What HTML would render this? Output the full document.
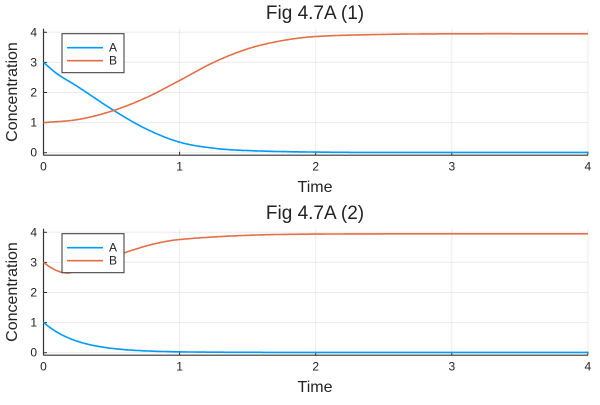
<!DOCTYPE html>
<html><head><style>
body{margin:0;background:#fff}
svg text{font-family:"Liberation Sans",sans-serif;fill:#222}
</style></head><body>
<svg id="s" width="600" height="400" xmlns="http://www.w3.org/2000/svg">
<text x="315" y="19" font-size="19" text-anchor="middle">Fig 4.7A (1)</text>
<text x="315" y="219" font-size="19" text-anchor="middle">Fig 4.7A (2)</text>
<text x="315" y="192" font-size="16" text-anchor="middle">Time</text>
<text x="315" y="392" font-size="16" text-anchor="middle">Time</text>
<text transform="translate(17,92) rotate(-90)" font-size="16" text-anchor="middle">Concentration</text>
<text transform="translate(17,292) rotate(-90)" font-size="16" text-anchor="middle">Concentration</text>
<g id="g"></g>
</svg>
<script>
var g=document.getElementById('g'),h='';
function X(t){return 43.5+t*136.1}
function plot(y0,A,B){
 var Y=function(v){return y0-v*30.1};
 for(var i=0;i<=4;i++){h+='<line x1="'+X(i)+'" x2="'+X(i)+'" y1="'+(y0-124)+'" y2="'+(y0+2.5)+'" stroke="#000" stroke-opacity="0.08"/>';
  h+='<line x1="43.5" x2="588" y1="'+Y(i)+'" y2="'+Y(i)+'" stroke="#000" stroke-opacity="0.08"/>';
  h+='<text x="'+(X(i))+'" y="'+(y0+18)+'" font-size="12" text-anchor="middle">'+i+'</text>';
  h+='<text x="37" y="'+(Y(i)+4)+'" font-size="12" text-anchor="end">'+i+'</text>';
  h+='<line x1="'+X(i)+'" x2="'+X(i)+'" y1="'+(y0+2.5)+'" y2="'+(y0-1)+'" stroke="#333"/>';
  h+='<line x1="43.5" x2="47" y1="'+Y(i)+'" y2="'+Y(i)+'" stroke="#333"/>';}
 h+='<line x1="43.5" x2="588" y1="'+(y0+2.5)+'" y2="'+(y0+2.5)+'" stroke="#333" stroke-width="1.2"/>';
 h+='<line x1="43.5" x2="43.5" y1="'+(y0-124)+'" y2="'+(y0+2.5)+'" stroke="#333" stroke-width="1.2"/>';
 [[A,'#009af9'],[B,'#e26f46']].forEach(function(c){var p=[];for(var t=0;t<=4.0001;t+=0.01)p.push(X(t).toFixed(1)+','+Y(c[0](t)).toFixed(1));
  h+='<polyline fill="none" stroke="'+c[1]+'" stroke-width="1.6" points="'+p.join(' ')+'"/>';});
 var ly=y0-119;
 h+='<rect x="62" y="'+ly+'" width="62" height="39" fill="#fff" stroke="#333" stroke-width="1"/>';
 h+='<line x1="67" x2="103" y1="'+(ly+14)+'" y2="'+(ly+14)+'" stroke="#009af9" stroke-width="1.6"/><text x="109" y="'+(ly+18)+'" font-size="12">A</text>';
 h+='<line x1="67" x2="103" y1="'+(ly+27)+'" y2="'+(ly+27)+'" stroke="#e26f46" stroke-width="1.6"/><text x="109" y="'+(ly+31)+'" font-size="12">B</text>';
}
function interp(pts){return function(t){
 for(var i=0;i<pts.length-1;i++){if(t<=pts[i+1][0]){var a=pts[Math.max(i-1,0)],b=pts[i],c=pts[i+1],d=pts[Math.min(i+2,pts.length-1)];
  var u=(t-b[0])/(c[0]-b[0]),m1=(c[1]-a[1])/(c[0]-a[0]||1)*(c[0]-b[0]),m2=(d[1]-b[1])/(d[0]-b[0]||1)*(c[0]-b[0]);
  var u2=u*u,u3=u2*u;return (2*u3-3*u2+1)*b[1]+(u3-2*u2+u)*m1+(-2*u3+3*u2)*c[1]+(u3-u2)*m2;}}
 return pts[pts.length-1][1];}}
var A1=interp([[0,3],[0.1,2.62],[0.25,2.2],[0.5,1.45],[0.75,0.8],[1,0.35],[1.25,0.15],[1.5,0.07],[2,0.02],[2.5,0.01],[4,0.01]]);
var B1=interp([[0,1],[0.25,1.1],[0.5,1.38],[0.75,1.82],[1,2.4],[1.25,3.0],[1.5,3.45],[1.75,3.72],[2,3.86],[2.5,3.93],[3,3.95],[4,3.95]]);
var B2=interp([[0,3],[0.05,2.84],[0.1,2.72],[0.15,2.66],[0.2,2.66],[0.3,2.82],[0.45,3.12],[0.6,3.33],[0.8,3.6],[1,3.76],[1.5,3.9],[2,3.94],[3,3.95],[4,3.95]]);
plot(152.7,A1,B1);
plot(352.7,function(t){return Math.exp(-4*t)+0.01},B2);
g.innerHTML=h;
</script>
</body></html>
